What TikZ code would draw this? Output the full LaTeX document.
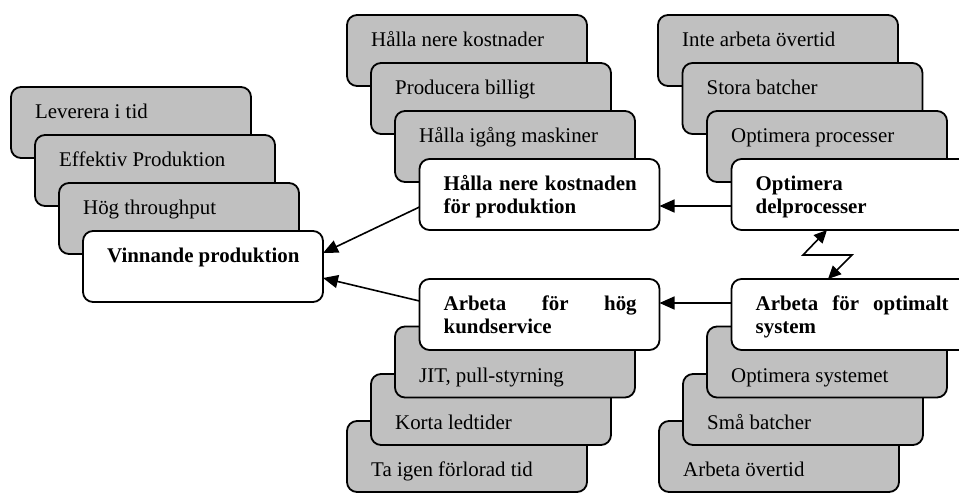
\documentclass[tikz,border=0pt]{standalone}
\usepackage{fontspec}
\setmainfont{Liberation Serif}
\usetikzlibrary{arrows.meta}
\definecolor{boxgray}{RGB}{192,192,192}
\tikzset{
  box/.style={draw=black, line width=1.8pt, rounded corners=10pt,
    minimum width=240pt, minimum height=71pt, inner sep=0pt, outer sep=0pt,
    anchor=north west},
  graybox/.style={box, fill=boxgray},
  whitebox/.style={box, fill=white},
  itemtext/.style={anchor=base west, inner sep=0pt,
    font=\fontsize{20.9}{23}\selectfont},
  headtext/.style={anchor=base west, inner sep=0pt,
    font=\fontsize{20.9}{23}\selectfont\bfseries},
  link/.style={line width=1.6pt, -{Triangle[length=15pt,width=13pt]}},
  zigzag/.style={line width=1.6pt,
    {Triangle[length=13pt,width=12pt]}-{Triangle[length=13pt,width=12pt]}},
}
% grey sub-goal box: name, left, top, baseline depth, text
\newcommand{\itembox}[5]{%
  \node[graybox] (#1) at (#2,#3) {};
  \node[itemtext] (#1-txt) at ([xshift=24pt,yshift=-#4pt]#1.north west) {#5};
}
% white goal box: name, left, top, text
\newcommand{\goalbox}[4]{%
  \node[whitebox] (#1) at (#2,#3) {};
  \node[headtext] (#1-txt) at ([xshift=24pt,yshift=-31.5pt]#1.north west)
    {\parbox[t]{193pt}{#4}};
}
\newcommand{\fullline}[1]{\makebox[\linewidth][s]{#1}}
\begin{document}
\begin{tikzpicture}[x=1pt,y=-1pt]
\useasboundingbox (0,0) rectangle (959,493);
\clip (0,0) rectangle (959,493);

% main goal
\itembox{L1}{11}{87}{31}{Leverera i tid}
\itembox{L2}{35}{135}{31}{Effektiv Produktion}
\itembox{L3}{59}{183}{31}{Hög throughput}
\goalbox{L4}{83}{231}{Vinnande produktion}

% cost branch
\itembox{M1}{347}{15}{31}{Hålla nere kostnader}
\itembox{M2}{371}{63}{31}{Producera billigt}
\itembox{M3}{395}{111}{31}{Hålla igång maskiner}
\goalbox{M4}{419.5}{159}{\fullline{Hålla nere kostnaden}\\för produktion}

\itembox{R1}{658}{15}{31}{Inte arbeta övertid}
\itembox{R2}{682.5}{63}{31}{Stora batcher}
\itembox{R3}{707}{111}{31}{Optimera processer}
\goalbox{R4}{731.5}{159}{Optimera\\delprocesser}

% service branch
\itembox{B1}{347}{421}{55}{Ta igen förlorad tid}
\itembox{B2}{371}{374}{55}{Korta ledtider}
\itembox{B3}{395}{326.5}{55.5}{JIT, pull-styrning}
\goalbox{B4}{419.5}{279}{\fullline{Arbeta för hög}\\kundservice}

\itembox{C1}{659}{421}{55}{Arbeta övertid}
\itembox{C2}{683}{374}{55}{Små batcher}
\itembox{C3}{707}{326.5}{55.5}{Optimera systemet}
\goalbox{C4}{731.5}{279}{\fullline{Arbeta för optimalt}\\system}

% connectors
\draw[link] ([yshift=-48pt]M4.north west) -- ([yshift=-22pt]L4.north east);
\draw[link] ([yshift=-22pt]B4.north west) -- ([yshift=-47pt]L4.north east);
\draw[link] ([yshift=-47pt]R4.north west) -- ([yshift=-47pt]M4.north east);
\draw[link] ([yshift=-24pt]C4.north west) -- ([yshift=-24pt]B4.north east);

% conflict between the two right-hand goals
\coordinate (zA) at (803,255);
\coordinate (zB) at (852,255);
\draw[zigzag] ([xshift=95.5pt]R4.south west) -- (zA) -- (zB)
  -- ([xshift=96.5pt]C4.north west);
\end{tikzpicture}
\end{document}
